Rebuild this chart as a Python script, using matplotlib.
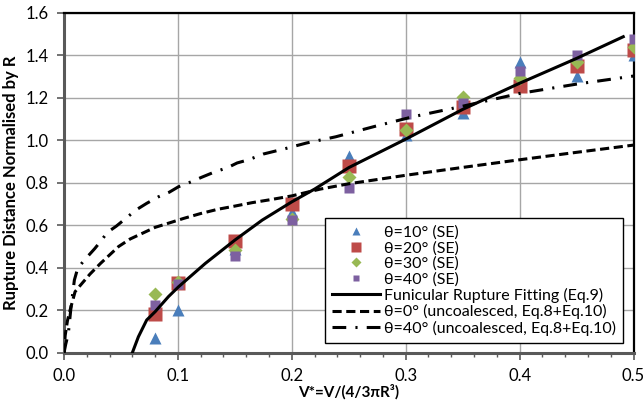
"""
Rupture distance versus dimensionless liquid volume for several contact angles.
"""
import matplotlib
matplotlib.use('Agg')
import matplotlib.pyplot as plt
from matplotlib.ticker import MultipleLocator, FormatStrFormatter


plt.rcParams['font.family'] = ['Lato', 'DejaVu Sans']

# Simulation points (SE = Surface Evolver)
v_star = [0.08, 0.10, 0.15, 0.20, 0.25, 0.30, 0.35, 0.40, 0.45, 0.50]
theta10 = [0.07, 0.20, 0.49, 0.66, 0.925, 1.025, 1.13, 1.37, 1.30, 1.40]
theta20 = [0.18, 0.33, 0.525, 0.70, 0.88, 1.055, 1.155, 1.255, 1.35, 1.425]
theta30 = [0.275, 0.335, 0.485, 0.63, 0.825, 1.047, 1.205, 1.295, 1.37, 1.44]
theta40 = [0.225, 0.325, 0.455, 0.625, 0.775, 1.125, 1.175, 1.325, 1.40, 1.475]

# Funicular rupture fitting (Eq.9)
fit_v = [0.060, 0.0653, 0.0726, 0.080, 0.0917, 0.1005, 0.124, 0.150, 0.174,
         0.200, 0.220, 0.250, 0.300, 0.350, 0.400, 0.450, 0.491]
fit_d = [0.0, 0.075, 0.154, 0.193, 0.264, 0.31, 0.42, 0.53, 0.624,
         0.71, 0.77, 0.871, 1.005, 1.145, 1.268, 1.385, 1.487]

# Uncoalesced, theta = 0 deg (Eq.8+Eq.10)
unc0_v = [0.0, 0.001, 0.003, 0.0053, 0.0097, 0.014, 0.0228, 0.032, 0.040,
          0.048, 0.058, 0.070, 0.080, 0.092, 0.105, 0.120, 0.135, 0.150,
          0.165, 0.181, 0.200, 0.225, 0.250, 0.300, 0.350, 0.400, 0.450, 0.500]
unc0_d = [0.0, 0.08, 0.15, 0.20, 0.287, 0.315, 0.37, 0.42, 0.46,
          0.50, 0.535, 0.565, 0.59, 0.61, 0.632, 0.655, 0.675, 0.69,
          0.706, 0.72, 0.738, 0.77, 0.795, 0.835, 0.872, 0.908, 0.943, 0.977]

# Uncoalesced, theta = 40 deg (Eq.8+Eq.10)
unc40_v = [0.0, 0.0015, 0.0038, 0.0062, 0.0091, 0.012, 0.0179, 0.027, 0.033,
           0.038, 0.046, 0.056, 0.0633, 0.0726, 0.083, 0.0923, 0.1005, 0.112,
           0.121, 0.131, 0.144, 0.152, 0.162, 0.175, 0.194, 0.213, 0.2385,
           0.2735, 0.306, 0.350, 0.400, 0.450, 0.500]
unc40_d = [0.0, 0.04, 0.091, 0.217, 0.342, 0.397, 0.436, 0.49, 0.53,
           0.566, 0.596, 0.64, 0.672, 0.703, 0.734, 0.755, 0.781, 0.805,
           0.826, 0.848, 0.872, 0.893, 0.908, 0.935, 0.96, 0.987, 1.016,
           1.066, 1.11, 1.16, 1.22, 1.264, 1.302]

fig = plt.figure(figsize=(6.44, 4.01), dpi=100)
ax = fig.add_axes([0.0994, 0.1204, 0.8843, 0.8479])

ax.plot(v_star, theta10, '^', color='#4a7ebb', ms=8.5, mec='none',
        label='θ=10° (SE)', zorder=3)
ax.plot(v_star, theta20, 's', color='#be4b48', ms=9.5, mec='none',
        label='θ=20° (SE)', zorder=3)
ax.plot(v_star, theta30, 'D', color='#98b954', ms=7, mec='none',
        label='θ=30° (SE)', zorder=3)
ax.plot(v_star, theta40, 's', color='#7d60a0', ms=7, mec='none',
        label='θ=40° (SE)', zorder=3)

ax.plot(fit_v, fit_d, '-', color='black', lw=2.2,
        label='Funicular Rupture Fitting (Eq.9)', zorder=4)
ax.plot(unc0_v, unc0_d, color='black', lw=2.2, dashes=(3.0, 1.5),
        label='θ=0° (uncoalesced, Eq.8+Eq.10)', zorder=4)
ax.plot(unc40_v, unc40_d, color='black', lw=2.2, dashes=(4.5, 3.0, 0.7, 3.0),
        label='θ=40° (uncoalesced, Eq.8+Eq.10)', zorder=4)

ax.set_xlim(0, 0.5)
ax.set_ylim(0, 1.6)
ax.xaxis.set_major_locator(MultipleLocator(0.1))
ax.xaxis.set_minor_locator(MultipleLocator(0.02))
ax.yaxis.set_major_locator(MultipleLocator(0.2))
ax.xaxis.set_major_formatter(FormatStrFormatter('%.1f'))
ax.yaxis.set_major_formatter(FormatStrFormatter('%.1f'))
ax.grid(True, which='major', color='#a6a6a6', lw=1.0)
ax.set_axisbelow(True)

ax.tick_params(axis='both', which='major', direction='out', length=5,
               width=1.2, color='#595959', labelsize=12, pad=6)
ax.tick_params(axis='x', which='minor', direction='out', length=3,
               width=1.0, color='#595959')
ax.tick_params(axis='x', which='major', pad=6)

for side in ('left', 'bottom'):
    ax.spines[side].set_color('#595959')
    ax.spines[side].set_linewidth(2.2)
for side in ('top', 'right'):
    ax.spines[side].set_color('black')
    ax.spines[side].set_linewidth(1.6)

ax.set_xlabel('V*=V/(4/3πR³)', fontsize=11, fontweight='bold', labelpad=0)
ax.set_ylabel('Rupture Distance Normalised by R', fontsize=12,
              fontweight='bold', labelpad=5)

leg = ax.legend(loc='lower left', bbox_to_anchor=(0.458, 0.029),
                fontsize=11.5, frameon=True, fancybox=False, framealpha=1,
                edgecolor='black', handlelength=3.0, handletextpad=0.25,
                labelspacing=0.08, borderpad=0.45, borderaxespad=0,
                markerscale=0.7)
leg.get_frame().set_linewidth(1.0)

fig.savefig('out.png', dpi=100)
